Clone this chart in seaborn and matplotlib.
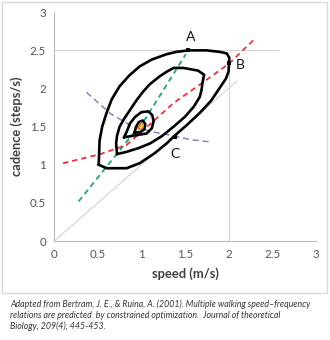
import numpy as np
import pandas as pd
import matplotlib
matplotlib.use("Agg")
import matplotlib.pyplot as plt
import seaborn as sns
from matplotlib.patches import Rectangle

# ---------------- data ----------------
tick_vals = [0, 0.5, 1, 1.5, 2, 2.5, 3]
tick_labels = ["0", "0.5", "1", "1.5", "2", "2.5", "3"]

# cost contours (closed curves)
outer_x = [0.51, 0.60, 0.83, 0.98, 1.15, 1.29, 1.37, 1.52, 1.67, 1.80, 1.90, 1.97, 2.00, 2.01,
           1.98, 1.90, 1.75, 1.54, 1.40, 1.29, 1.12, 0.98, 0.86, 0.75, 0.66, 0.60, 0.55, 0.52, 0.51]
outer_y = [1.00, 0.955, 0.955, 1.02, 1.15, 1.28, 1.37, 1.52, 1.68, 1.84, 2.01, 2.13, 2.22, 2.40,
           2.46, 2.48, 2.50, 2.50, 2.48, 2.45, 2.38, 2.29, 2.17, 2.03, 1.86, 1.68, 1.50, 1.32, 1.00]

second_x = [0.72, 0.83, 0.97, 1.10, 1.24, 1.37, 1.50, 1.60, 1.67, 1.69, 1.70, 1.72, 1.65, 1.48,
            1.37, 1.29, 1.21, 1.10, 1.02, 0.94, 0.87, 0.80, 0.75, 0.72, 0.71, 0.72]
second_y = [1.14, 1.17, 1.22, 1.28, 1.38, 1.50, 1.63, 1.76, 1.89, 1.98, 2.07, 2.18, 2.235, 2.27,
            2.27, 2.22, 2.16, 2.06, 1.96, 1.84, 1.72, 1.60, 1.50, 1.38, 1.28, 1.14]

third_x = [0.80, 0.95, 1.06, 1.12, 1.14, 1.125, 1.08, 1.00, 0.93, 0.87, 0.83, 0.80]
third_y = [1.36, 1.39, 1.41, 1.48, 1.57, 1.65, 1.70, 1.69, 1.63, 1.545, 1.43, 1.36]

fourth_x = [0.92, 0.99, 1.035, 1.045, 1.015, 0.97, 0.94, 0.92]
fourth_y = [1.42, 1.43, 1.47, 1.535, 1.58, 1.56, 1.50, 1.42]

orange_x = [0.965, 1.00, 1.02, 1.015, 0.99, 0.97, 0.965]
orange_y = [1.465, 1.47, 1.50, 1.535, 1.545, 1.51, 1.465]

core_x = [0.99, 1.0]
core_y = [1.50, 1.52]

# dashed prediction curves
green_x = [0.28, 0.85, 1.05, 1.51]
green_y = [0.52, 1.33, 1.61, 2.45]

red_x = [0.10, 0.53, 0.83, 1.00, 1.37, 1.67, 2.01, 2.30]
red_y = [1.02, 1.14, 1.26, 1.43, 1.81, 2.05, 2.33, 2.65]

blue_x = [0.37, 0.64, 0.87, 1.00, 1.18, 1.37, 1.56, 1.79]
blue_y = [1.95, 1.675, 1.52, 1.47, 1.42, 1.38, 1.33, 1.30]

# thin grey reference lines
diag_x = [0, 2.1]
diag_y = [0, 2.1]
hline_x = [0, 2.58]
hline_y = [2.5, 2.5]
vline_x = [2.0, 2.0]
vline_y = [0, 2.33]

# labelled points
pt_names = ["A", "B", "C"]
pt_x = [1.54, 2.01, 1.38]
pt_y = [2.50, 2.33, 1.37]

caption = ("Adapted from Bertram, J. E., & Ruina, A. (2001). Multiple walking speed\u2013frequency\n"
           "relations are predicted  by constrained optimization.  Journal of theoretical\n"
           "Biology, 209(4), 445-453.")

# ---------------- drawing ----------------
sns.set_style("white")
plt.rcParams['font.family'] = ['Lato', 'DejaVu Sans']

fig = plt.figure(figsize=(3.3, 3.4), dpi=100)
ax = fig.add_axes([0.1645, 0.291, 0.792, 0.673])


def curve(xs, ys, **kw):
    df = pd.DataFrame({'x': xs, 'y': ys})
    sns.lineplot(data=df, x='x', y='y', sort=False, estimator=None, ax=ax, **kw)


grey = '#d4d4d4'
curve(diag_x, diag_y, color=grey, lw=0.8)
curve(hline_x, hline_y, color=grey, lw=0.8)
curve(vline_x, vline_y, color=grey, lw=0.8)

curve(green_x, green_y, color='#1fa46c', lw=1.3, dashes=(3, 2.2))
curve(red_x, red_y, color='#e8323c', lw=1.3, dashes=(3, 2.2))
curve(blue_x, blue_y, color='#8484bc', lw=1.1, dashes=(4, 2.5))

for xs, ys in [(outer_x, outer_y), (second_x, second_y), (third_x, third_y), (fourth_x, fourth_y)]:
    curve(xs, ys, color='black', lw=1.9, solid_joinstyle='round', solid_capstyle='round')
curve(orange_x, orange_y, color='#f07f20', lw=1.0, solid_joinstyle='round')
curve(core_x, core_y, color='#c8d030', lw=1.2)

sns.scatterplot(x=pt_x, y=pt_y, ax=ax, color='black', marker='s', s=10, linewidth=0, zorder=5)
offsets = {"A": (0.03, 0.17), "B": (0.13, -0.02), "C": (0.01, -0.23)}
for n, x, y in zip(pt_names, pt_x, pt_y):
    dx, dy = offsets[n]
    ax.text(x + dx, y + dy, n, fontsize=10, ha='center', va='center', color='#111111')

ax.set_xlim(0, 3)
ax.set_ylim(0, 3)
ax.set_xticks(tick_vals)
ax.set_xticklabels(tick_labels)
ax.set_yticks(tick_vals)
ax.set_yticklabels(tick_labels)
ax.tick_params(axis='both', labelsize=8.3, colors='#555555', length=3, width=0.7,
               direction='out', pad=3)
ax.tick_params(axis='both', color='#bbbbbb')
for s in ['top', 'right']:
    ax.spines[s].set_visible(False)
for s in ['left', 'bottom']:
    ax.spines[s].set_color('#bbbbbb')
    ax.spines[s].set_linewidth(0.8)
ax.set_xlabel('speed (m/s)', fontsize=9.3, fontweight='bold', color='#404040', labelpad=5)
ax.set_ylabel('cadence (steps/s)', fontsize=9.3, fontweight='bold', color='#404040', labelpad=5)
ax.grid(False)

fig.patches.append(Rectangle((2 / 330, 1 - 293 / 340), 325 / 330, 291 / 340,
                             transform=fig.transFigure, fill=False,
                             edgecolor='#d9d9d9', lw=1.0))

fig.text(10 / 330, 1 - 299 / 340, caption, fontsize=6.3, style='italic', color='#333333',
         ha='left', va='top', linespacing=1.3)

fig.savefig('out.png', dpi=100)
